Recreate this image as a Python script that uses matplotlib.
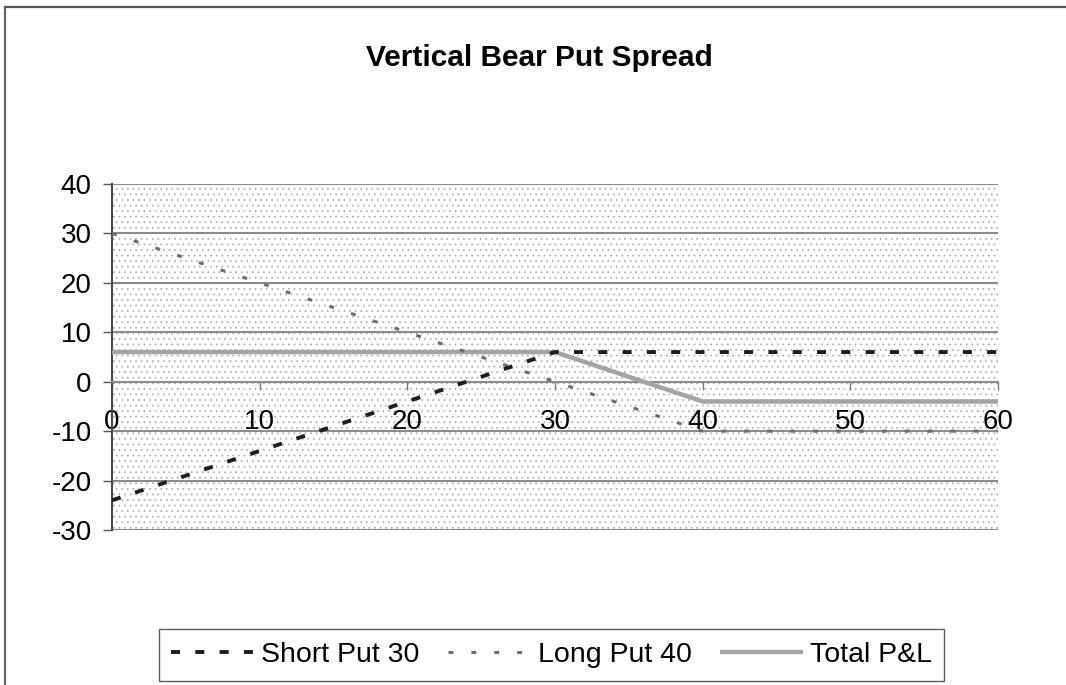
import matplotlib.pyplot as plt
from matplotlib.lines import Line2D
from matplotlib.patches import Rectangle

# stock price at expiry and P&L of each leg
price = [0, 10, 20, 30, 40, 50, 60]
short_put = [-24, -14, -4, 6, 6, 6, 6]
long_put = [30, 20, 10, 0, -10, -10, -10]
total_pl = [6, 6, 6, 6, -4, -4, -4]

x_ticks = [0, 10, 20, 30, 40, 50, 60]
y_ticks = [-30, -20, -10, 0, 10, 20, 30, 40]

plt.rcParams['font.family'] = ['Liberation Sans', 'DejaVu Sans']
plt.rcParams['axes.unicode_minus'] = False
plt.rcParams['lines.scale_dashes'] = False
plt.rcParams['hatch.color'] = '#ababab'
plt.rcParams['hatch.linewidth'] = 0.5

fig = plt.figure(figsize=(10.66, 6.85), dpi=100)
ax = fig.add_axes([112 / 1066, 1 - 530 / 685, 886 / 1066, 346 / 685])

# dotted plot-area background like the old excel pattern fill
bg = Rectangle((0, 0), 1, 1, transform=ax.transAxes, facecolor='white',
               edgecolor='#ababab', lw=0, hatch='...', zorder=0)
ax.add_patch(bg)

ax.plot(price, total_pl, color='#a4a4a4', lw=3.2, solid_capstyle='butt',
        label='Total P&L', zorder=3)
ax.plot(price, long_put, color='#6e6e6e', lw=2.2, dashes=(3.5, 13),
        label='Long Put 40', zorder=4)
ax.plot(price, short_put, color='#1e1e1e', lw=2.8, dashes=(6.5, 11),
        label='Short Put 30', zorder=5)

ax.set_xlim(0, 60)
ax.set_ylim(-30, 40)
ax.set_xticks(x_ticks)
ax.set_yticks(y_ticks)
ax.yaxis.grid(True, color='#8c8c8c', lw=1.5)
ax.set_axisbelow(True)

for s in ['top', 'right']:
    ax.spines[s].set_visible(False)
ax.spines['bottom'].set_position(('data', 0))
ax.spines['bottom'].set_color('#8c8c8c')
ax.spines['bottom'].set_linewidth(1.5)
ax.spines['left'].set_color('#4a4a4a')
ax.spines['left'].set_linewidth(1.5)

ax.tick_params(axis='x', direction='out', length=5.5, width=1, color='#777777',
               labelsize=20, pad=14)
ax.tick_params(axis='y', direction='out', length=6.5, width=1, color='#555555',
               labelsize=20, pad=8)

fig.text(0.506, 1 - 58 / 685, 'Vertical Bear Put Spread', ha='center',
         va='center', fontsize=21.5, fontweight='bold')

# legend in the order shown
h, l = ax.get_legend_handles_labels()
order = [2, 1, 0]
leg = fig.legend([h[i] for i in order], [l[i] for i in order], loc='center',
                 bbox_to_anchor=(0.5174, 1 - 655 / 685), ncol=3, fontsize=20.5,
                 frameon=True, fancybox=False, handlelength=2.9,
                 handletextpad=0.25, columnspacing=1.0, borderpad=0.45,
                 borderaxespad=0)
leg.get_frame().set_edgecolor('#333333')
leg.get_frame().set_linewidth(1.0)

# outer chart frame (partly cut off in the picture)
fig.add_artist(Line2D([5 / 1066, 1], [1 - 7 / 685, 1 - 7 / 685], color='#555555', lw=1.6))
fig.add_artist(Line2D([5 / 1066, 5 / 1066], [0, 1 - 7 / 685], color='#666666', lw=1.6))

fig.savefig('out.png', dpi=100)
